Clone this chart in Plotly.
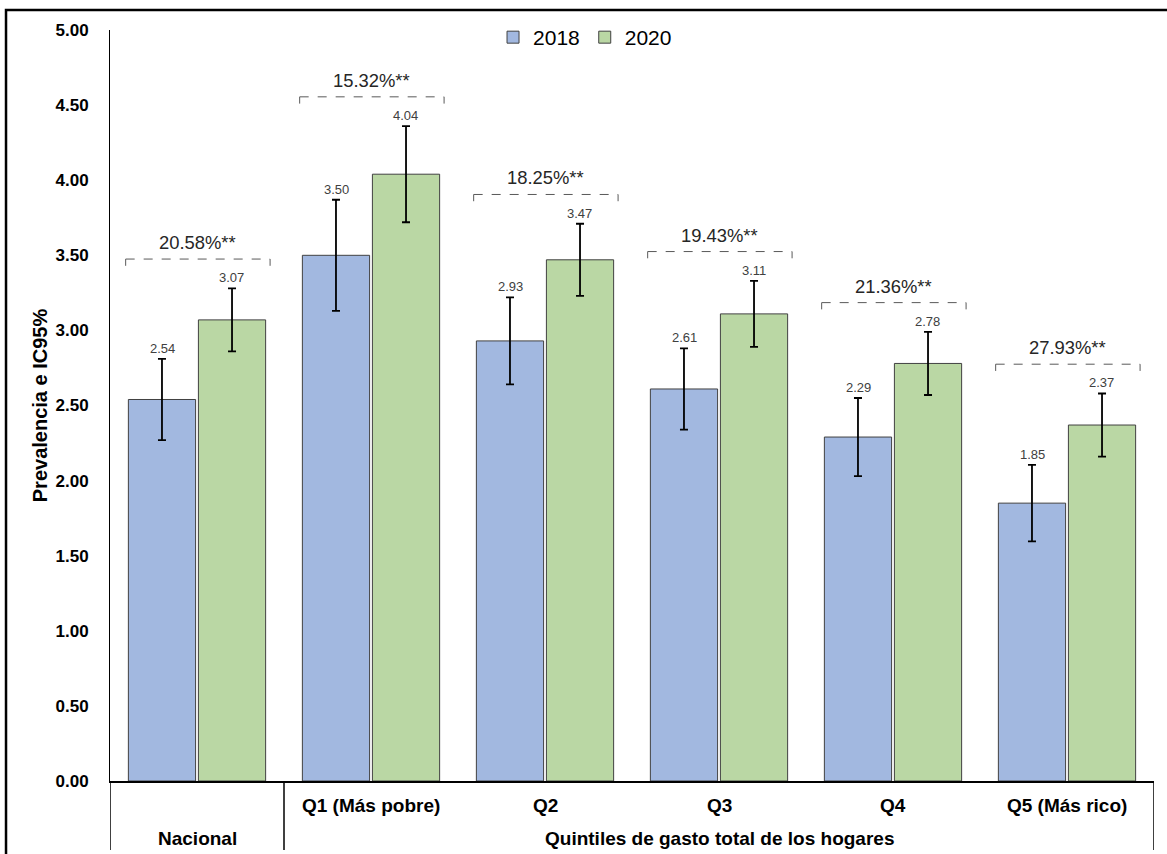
import plotly.graph_objects as go

categories = ["Nacional", "Q1 (Más pobre)", "Q2", "Q3", "Q4", "Q5 (Más rico)"]
v2018 = [2.54, 3.50, 2.93, 2.61, 2.29, 1.85]
e2018 = [0.27, 0.37, 0.29, 0.27, 0.26, 0.255]
v2020 = [3.07, 4.04, 3.47, 3.11, 2.78, 2.37]
e2020 = [0.21, 0.32, 0.24, 0.22, 0.21, 0.21]
pct_labels = ["20.58%**", "15.32%**", "18.25%**", "19.43%**", "21.36%**", "27.93%**"]
group_label_nac = "Nacional"
group_label_q = "Quintiles de gasto total de los hogares"

FONT = "Liberation Sans, Arial, sans-serif"
C2018 = "#A2B8E0"
C2020 = "#BAD7A4"

fig = go.Figure()
fig.add_trace(go.Bar(
    name="2018", x=categories, y=v2018, marker=dict(color=C2018, line=dict(color="#404040", width=1)),
    error_y=dict(type="data", array=e2018, color="#000000", thickness=1.8, width=4),
))
fig.add_trace(go.Bar(
    name="2020", x=categories, y=v2020, marker=dict(color=C2020, line=dict(color="#404040", width=1)),
    error_y=dict(type="data", array=e2020, color="#000000", thickness=1.8, width=4),
))

ann = []
shapes = []
for i, cat in enumerate(categories):
    ann.append(dict(x=i - 0.2, y=v2018[i] + e2018[i], xref="x", yref="y", text=f"{v2018[i]:.2f}",
                    showarrow=False, yanchor="bottom", yshift=1, font=dict(size=13, color="#404040", family=FONT)))
    ann.append(dict(x=i + 0.2, y=v2020[i] + e2020[i], xref="x", yref="y", text=f"{v2020[i]:.2f}",
                    showarrow=False, yanchor="bottom", yshift=1, font=dict(size=13, color="#404040", family=FONT)))
    top = max(v2018[i] + e2018[i], v2020[i] + e2020[i])
    by = top + 0.195
    x0, x1 = i - 0.41, i + 0.42
    dash = dict(color="#595959", width=1, dash="dash")
    shapes.append(dict(type="line", xref="x", yref="y", x0=x0, x1=x1, y0=by, y1=by, line=dash))
    shapes.append(dict(type="line", xref="x", yref="y", x0=x0, x1=x0, y0=by, y1=by - 0.045, line=dict(color="#595959", width=1)))
    shapes.append(dict(type="line", xref="x", yref="y", x0=x1, x1=x1, y0=by, y1=by - 0.045, line=dict(color="#595959", width=1)))
    ann.append(dict(x=i, y=by, xref="x", yref="y", text=pct_labels[i], showarrow=False,
                    yanchor="bottom", yshift=4, font=dict(size=18.4, color="#262626", family=FONT)))
    if i > 0:
        ann.append(dict(x=i, y=0, xref="x", yref="paper", text=f"<b>{cat}</b>", showarrow=False,
                        yanchor="middle", yshift=-24, font=dict(size=19, color="#000000", family=FONT)))

ann.append(dict(x=0, y=0, xref="x", yref="paper", text=f"<b>{group_label_nac}</b>", showarrow=False,
                yanchor="middle", yshift=-57, font=dict(size=19, color="#000000", family=FONT)))
ann.append(dict(x=3, y=0, xref="x", yref="paper", text=f"<b>{group_label_q}</b>", showarrow=False,
                yanchor="middle", yshift=-57, font=dict(size=19, color="#000000", family=FONT)))

for xs in [-0.5, 0.5, 5.5]:
    shapes.append(dict(type="line", xref="x", yref="paper", x0=xs, x1=xs, y0=0, y1=-0.092,
                       line=dict(color="#000000", width=1.5)))

shapes.append(dict(type="rect", xref="paper", yref="paper", x0=-0.0996, x1=1.05, y0=-0.2, y1=1.0266,
                   line=dict(color="#000000", width=2.5), fillcolor="rgba(0,0,0,0)", layer="below"))

fig.update_layout(
    width=1167, height=854,
    margin=dict(l=110, r=13, t=30, b=73, autoexpand=False),
    paper_bgcolor="white", plot_bgcolor="white",
    barmode="group", bargap=0.195, bargroupgap=0.04,
    font=dict(family=FONT, color="#000000"),
    legend=dict(orientation="h", x=0.455, xanchor="center", y=0.99, yanchor="middle",
                font=dict(size=21, color="#000000", family=FONT), itemwidth=30, bgcolor="rgba(0,0,0,0)",
                traceorder="normal"),
    annotations=ann, shapes=shapes,
    xaxis=dict(showticklabels=False, showline=True, linecolor="#000000", linewidth=1.5, ticks="",
               showgrid=False, zeroline=False, range=[-0.5, 5.5]),
    yaxis=dict(range=[0, 5], dtick=0.5, tickformat=".2f", showgrid=False, zeroline=False,
               showline=True, linecolor="#000000", linewidth=1, ticks="",
               tickfont=dict(size=17, weight="bold", family=FONT, color="#000000"),
               ticklabelstandoff=17,
               title=dict(text="<b>Prevalencia e IC95%</b>", font=dict(size=20, family=FONT, color="#000000"),
                          standoff=2)),
)

fig.write_html("out.html")
